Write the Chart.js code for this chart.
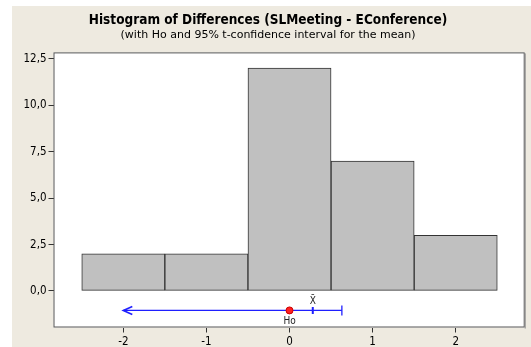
<!DOCTYPE html>
<html>
<head>
<meta charset="utf-8">
<script src="https://cdn.jsdelivr.net/npm/chart.js@4/dist/chart.umd.min.js"></script>
<style>
  html, body { margin: 0; padding: 0; background: #ffffff; }
  #wrap { width: 531px; height: 347px; }
</style>
</head>
<body>
<div id="wrap"><canvas id="c" width="531" height="347"></canvas></div>
<script>
// Histogram bins (centres, width 1) and their counts
const binCenters = [-2, -1, 0, 1, 2];
const counts = [2, 2, 12, 7, 3];

// Axis ticks
const xTicks = [-2, -1, 0, 1, 2];
const yTicks = [0, 2.5, 5, 7.5, 10, 12.5];

// Null hypothesis value, sample mean and one-sided 95% t upper bound
const h0 = 0;
const meanDiff = 0.28;
const upperBound = 0.63;
const intervalStart = -2;   // drawn with an arrow: the interval is unbounded below
const intervalLevel = -1.05;

const FONT = "'DejaVu Sans Condensed', 'DejaVu Sans', sans-serif";
const FONT_WIDE = "'DejaVu Sans', sans-serif";
const BLUE = '#1f1fff';

const frame = {
  id: 'frame',
  beforeDraw(chart) {
    const { ctx, chartArea: a } = chart;
    ctx.save();
    ctx.fillStyle = '#ffffff';
    ctx.fillRect(0, 0, chart.width, chart.height);
    ctx.fillStyle = '#eeeae0';
    ctx.fillRect(12, 6, chart.width - 12, chart.height - 6);
    ctx.fillStyle = '#ffffff';
    ctx.fillRect(a.left, a.top, a.right - a.left, a.bottom - a.top);
    ctx.restore();
  },
  afterDraw(chart) {
    const { ctx, chartArea: a, scales } = chart;
    const x = scales.x, y = scales.y;
    ctx.save();
    // plot frame
    ctx.strokeStyle = '#555555';
    ctx.lineWidth = 1;
    ctx.strokeRect(a.left + 0.5, a.top + 0.5, a.right - a.left - 1, a.bottom - a.top - 1);
    ctx.strokeStyle = '#8a8a8a';
    ctx.beginPath();
    ctx.moveTo(a.right + 0.5, a.top + 1);
    ctx.lineTo(a.right + 0.5, a.bottom + 1);
    ctx.stroke();

    // arrow head at the open end of the interval
    const ax = x.getPixelForValue(intervalStart);
    const ay = y.getPixelForValue(intervalLevel);
    ctx.strokeStyle = BLUE;
    ctx.lineWidth = 1.6;
    ctx.beginPath();
    ctx.moveTo(ax + 9, ay - 4);
    ctx.lineTo(ax, ay);
    ctx.lineTo(ax + 9, ay + 4);
    ctx.stroke();

    // marker labels
    ctx.fillStyle = '#222222';
    ctx.font = '10px ' + FONT;
    ctx.textAlign = 'center';
    ctx.textBaseline = 'middle';
    ctx.fillText('Ho', x.getPixelForValue(h0), ay + 11);
    ctx.fillText('X\u0304', x.getPixelForValue(meanDiff), ay - 9);
    ctx.restore();
  }
};

const fmt = v => v.toFixed(1).replace('.', ',');

new Chart(document.getElementById('c'), {
  data: {
    datasets: [
      {
        type: 'bar',
        data: binCenters.map((c, i) => ({ x: c, y: counts[i] })),
        backgroundColor: '#c0c0c0',
        borderColor: '#333333',
        borderWidth: 1,
        borderSkipped: false,
        barPercentage: 1,
        categoryPercentage: 1,
        order: 3
      },
      {
        type: 'line',
        data: [{ x: intervalStart, y: intervalLevel }, { x: upperBound, y: intervalLevel }],
        borderColor: BLUE,
        borderWidth: 1.3,
        pointStyle: 'line',
        pointRotation: 90,
        pointRadius: [0, 5],
        pointBorderColor: BLUE,
        pointBorderWidth: 1.3,
        order: 2
      },
      {
        type: 'scatter',
        data: [{ x: meanDiff, y: intervalLevel }],
        pointStyle: 'line',
        pointRotation: 90,
        pointRadius: 3.5,
        borderColor: BLUE,
        pointBorderWidth: 2,
        order: 1
      },
      {
        type: 'scatter',
        data: [{ x: h0, y: intervalLevel }],
        pointStyle: 'circle',
        pointRadius: 3.5,
        backgroundColor: '#ff2020',
        borderColor: '#cc0000',
        pointBorderWidth: 1,
        order: 0
      }
    ]
  },
  options: {
    responsive: false,
    animation: false,
    devicePixelRatio: 1,
    layout: { padding: { left: 10, right: 5, top: 0, bottom: 0 } },
    plugins: {
      legend: { display: false },
      tooltip: { enabled: false },
      title: {
        display: true,
        text: 'Histogram of Differences (SLMeeting - EConference)',
        color: '#000000',
        font: { family: FONT, size: 13.5, weight: 'bold', lineHeight: 1.2 },
        padding: { top: 12, bottom: 0 }
      },
      subtitle: {
        display: true,
        text: '(with Ho and 95% t-confidence interval for the mean)',
        color: '#000000',
        font: { family: FONT_WIDE, size: 11, lineHeight: 1.2 },
        padding: { top: 0, bottom: 11 }
      }
    },
    scales: {
      x: {
        type: 'linear',
        offset: false,
        min: -2.84,
        max: 2.83,
        afterBuildTicks: s => { s.ticks = xTicks.map(v => ({ value: v })); },
        afterFit: s => { s.height = 19.5; },
        border: { display: false },
        grid: { offset: false, drawOnChartArea: false, drawTicks: true, tickLength: 5, tickColor: '#333333' },
        ticks: { color: '#000000', font: { family: FONT, size: 11.5 }, padding: 3, maxRotation: 0, callback: v => String(v) }
      },
      y: {
        type: 'linear',
        min: -1.97,
        max: 12.85,
        afterBuildTicks: s => { s.ticks = yTicks.map(v => ({ value: v })); },
        afterFit: s => { s.width = 43.5; },
        border: { display: false },
        grid: { drawOnChartArea: false, drawTicks: true, tickLength: 5, tickColor: '#333333' },
        ticks: { color: '#000000', font: { family: FONT, size: 11.5 }, padding: 2, callback: v => fmt(v) }
      }
    }
  },
  plugins: [frame]
});
</script>
</body>
</html>
